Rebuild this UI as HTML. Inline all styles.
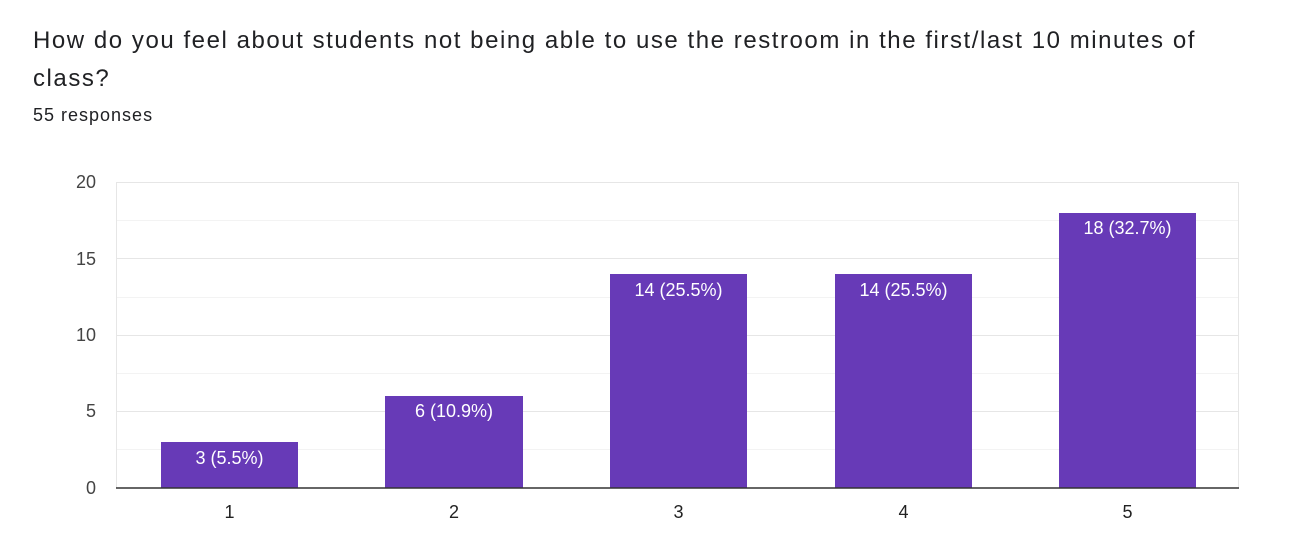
<!DOCTYPE html>
<html><head><meta charset="utf-8"><style>
body{margin:0;background:#fff;width:1308px;height:560px;overflow:hidden;font-family:"Liberation Sans",Arial,sans-serif;}
.t{position:absolute;left:33px;top:22px;font-size:24px;letter-spacing:1.55px;color:#202124;line-height:38px;width:1220px}
.r{position:absolute;left:33px;top:105px;font-size:18px;color:#202124;letter-spacing:1px}
</style></head><body>
<div class="t">How do you feel about students not being able to use the restroom in the first/last 10 minutes of class?</div>
<div class="r">55 responses</div>
<svg width="1308" height="560" style="position:absolute;left:0;top:0" font-family="Liberation Sans, Arial, sans-serif">
<g stroke="#f3f3f3" stroke-width="1">
<line x1="116" x2="1239" y1="220.5" y2="220.5"/><line x1="116" x2="1239" y1="297.5" y2="297.5"/>
<line x1="116" x2="1239" y1="373.5" y2="373.5"/><line x1="116" x2="1239" y1="449.5" y2="449.5"/>
</g>
<g stroke="#e6e6e6" stroke-width="1">
<line x1="116" x2="1239" y1="182.5" y2="182.5"/><line x1="116" x2="1239" y1="258.5" y2="258.5"/>
<line x1="116" x2="1239" y1="335.5" y2="335.5"/><line x1="116" x2="1239" y1="411.5" y2="411.5"/>
<line x1="116.5" x2="116.5" y1="182" y2="488"/><line x1="1238.5" x2="1238.5" y1="182" y2="488"/>
</g>
<g fill="#673ab7">
<rect x="161" y="442" width="137" height="46"/>
<rect x="385" y="396" width="138" height="92"/>
<rect x="610" y="274" width="137" height="214"/>
<rect x="835" y="274" width="137" height="214"/>
<rect x="1059" y="213" width="137" height="275"/>
</g>
<line x1="116" x2="1239" y1="488" y2="488" stroke="#333" stroke-width="1.5"/>
<g fill="#fff" font-size="18" text-anchor="middle">
<text x="229.5" y="464">3 (5.5%)</text>
<text x="454" y="417">6 (10.9%)</text>
<text x="678.5" y="296">14 (25.5%)</text>
<text x="903.5" y="296">14 (25.5%)</text>
<text x="1127.5" y="234">18 (32.7%)</text>
</g>
<g fill="#444" font-size="18" text-anchor="end">
<text x="96" y="188">20</text><text x="96" y="265">15</text><text x="96" y="341">10</text>
<text x="96" y="417">5</text><text x="96" y="494">0</text>
</g>
<g fill="#222" font-size="18" text-anchor="middle">
<text x="229.5" y="518">1</text><text x="454" y="518">2</text><text x="678.5" y="518">3</text>
<text x="903.5" y="518">4</text><text x="1127.5" y="518">5</text>
</g>
</svg>
</body></html>
